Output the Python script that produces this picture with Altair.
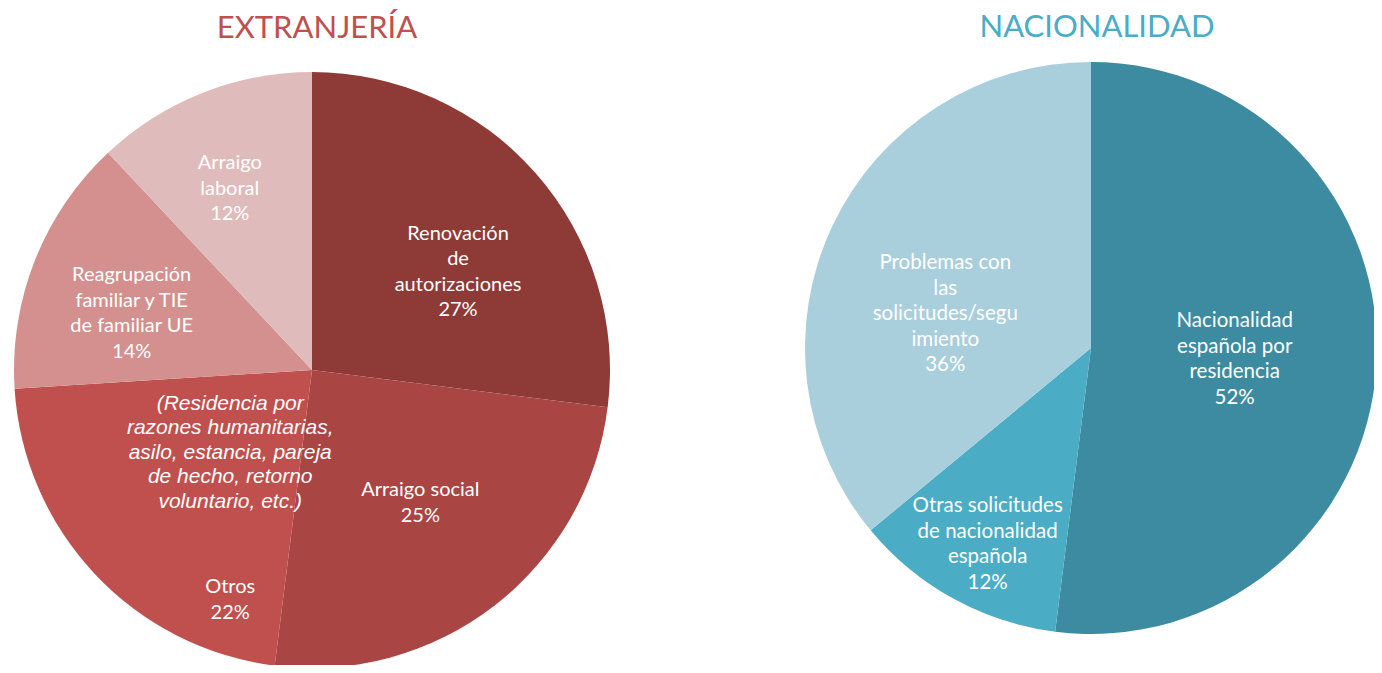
import altair as alt
import pandas as pd

# ---------------- data ----------------
left_categories = ["Renovación de autorizaciones", "Arraigo social", "Otros",
                   "Reagrupación familiar y TIE de familiar UE", "Arraigo laboral"]
left_labels = ["Renovación\nde\nautorizaciones", "Arraigo social", "Otros",
               "Reagrupación\nfamiliar y TIE\nde familiar UE", "Arraigo\nlaboral"]
left_values = [27, 25, 22, 14, 12]

right_categories = ["Nacionalidad española por residencia",
                    "Otras solicitudes de nacionalidad española",
                    "Problemas con las solicitudes/seguimiento"]
right_labels = ["Nacionalidad\nespañola por\nresidencia",
                "Otras solicitudes\nde nacionalidad\nespañola",
                "Problemas con\nlas\nsolicitudes/segu\nimiento"]
right_values = [52, 12, 36]

otros_note = ["(Residencia por\nrazones humanitarias,\nasilo, estancia, pareja\nde hecho, retorno\nvoluntario, etc.)"]
titles = ["EXTRANJERÍA", "NACIONALIDAD"]

# ---------------- styles ----------------
left_colors = ["#8E3A37", "#A94543", "#C0504D", "#D3908E", "#E0BBBB"]
right_colors = ["#3C8BA1", "#4BACC6", "#A9CEDC"]
title_colors = ["#C0504D", "#4BACC6"]

rows = []
for i, (c, l, v) in enumerate(zip(left_categories, left_labels, left_values)):
    rows.append({"pie": "left", "category": c, "label": l, "value": v, "order": i})
for i, (c, l, v) in enumerate(zip(right_categories, right_labels, right_values)):
    rows.append({"pie": "right", "category": c, "label": l, "value": v, "order": i})
df = pd.DataFrame(rows)
df["note"] = [otros_note[0] if c == left_categories[2] else "" for c in df["category"]]

all_cats = left_categories + right_categories
all_colors = left_colors + right_colors
theta_scale = alt.Scale(domain=[0, 100])

base = alt.Chart(df).transform_window(
    cum="sum(value)", frame=[None, 0], sort=[alt.SortField("order")], groupby=["pie"]
).transform_calculate(
    mid="datum.cum - datum.value / 2",
    txt="datum.label + '\\n' + datum.value + '%'",
)

LCX, LCY, LR = 304, 362, 298
RCX, RCY, RR = 1083, 340, 286


def pie(p, cx, cy, r):
    return base.transform_filter(alt.datum.pie == p).mark_arc(outerRadius=r).encode(
        theta=alt.Theta("value:Q", stack=True, scale=theta_scale),
        color=alt.Color("category:N", scale=alt.Scale(domain=all_cats, range=all_colors), legend=None),
        order=alt.Order("order:Q"),
        x=alt.value(cx),
        y=alt.value(cy),
    )


def label(cat, text, cx, cy, R, dx, dy, field="txt:N", font="Lato", size=20, lh=25.5, style="normal"):
    n = text.count("\n") + 1
    return base.transform_filter(alt.datum.category == cat).mark_text(
        lineBreak="\n", font=font, fontSize=size, lineHeight=lh, fontStyle=style,
        color="white", align="center", baseline="middle", dx=dx, dy=dy - (n - 1) * lh / 2,
    ).encode(
        theta=alt.Theta("mid:Q", stack=None, scale=theta_scale),
        radius=alt.value(R),
        x=alt.value(cx),
        y=alt.value(cy),
        text=alt.Text(field),
    )


def lbl(i, side, R, dx, dy, size=20):
    cats = left_categories if side == "left" else right_categories
    labs = left_labels if side == "left" else right_labels
    cx, cy = (LCX, LCY) if side == "left" else (RCX, RCY)
    return label(cats[i], labs[i] + "\nx%", cx, cy, R, dx, dy, size=size)


title_df = pd.DataFrame({"t": titles})
t_left = alt.Chart(title_df).transform_filter(alt.datum.t == titles[0]).mark_text(
    font="Lato", fontSize=31, color=title_colors[0], align="center", baseline="middle"
).encode(text="t:N", x=alt.value(309), y=alt.value(21))
t_right = alt.Chart(title_df).transform_filter(alt.datum.t == titles[1]).mark_text(
    font="Lato", fontSize=31, color=title_colors[1], align="center", baseline="middle"
).encode(text="t:N", x=alt.value(1089), y=alt.value(20))

layers = [
    pie("left", LCX, LCY, LR),
    pie("right", RCX, RCY, RR),
    lbl(0, "left", 180, 11, 21),
    lbl(1, "left", 180, -2, -9),
    lbl(2, "left", 200, 64, 93),
    lbl(3, "left", 180, -13, 10),
    lbl(4, "left", 180, -16, -14),
    lbl(0, "right", 150, -6, 2, size=20.5),
    lbl(1, "right", 200, -7, 21, size=20.5),
    lbl(2, "right", 150, -10, 30, size=20.5),
    label(left_categories[2], otros_note[0], LCX, LCY, 200, 64, -54, field="note:N",
          font="Liberation Sans", size=21, lh=24.5, style="italic"),
    t_left,
    t_right,
]

chart = alt.layer(*layers).properties(
    width=1366, height=657, padding=0, autosize=alt.AutoSizeParams(type="none"),
    background="white",
).configure_view(strokeWidth=0)

chart.save("out.html", embed_options={"renderer": "svg", "actions": False})
